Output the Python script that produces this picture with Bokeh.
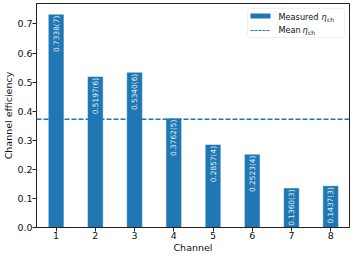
import math
from bokeh.plotting import figure
from bokeh.models import (ColumnDataSource, Span, Label, BoxAnnotation, FixedTicker,
                          Range1d, PrintfTickFormatter, Arrow)
from bokeh.core.properties import value
from bokeh.embed import file_html
from bokeh.resources import INLINE

# ---- data ----
channels = [1, 2, 3, 4, 5, 6, 7, 8]
efficiency = [0.7338, 0.5197, 0.5340, 0.3762, 0.2857, 0.2523, 0.1360, 0.1437]
eff_labels = ["0.7338(7)", "0.5197(6)", "0.5340(6)", "0.3762(5)",
              "0.2857(4)", "0.2523(4)", "0.1360(3)", "0.1437(3)"]
y_ticks = [0.0, 0.1, 0.2, 0.3, 0.4, 0.5, 0.6, 0.7]
mean_eff = sum(efficiency) / len(efficiency)

FONT = "DejaVu Sans"
BLUE = "#1f77b4"
W, H = 350, 255

src = ColumnDataSource(dict(x=channels, top=efficiency, lab=eff_labels))

p = figure(width=W, height=H, output_backend="svg", toolbar_location=None,
           x_range=Range1d(0.5, 8.48), y_range=Range1d(0, max(efficiency) * 1.05),
           min_border_left=0, min_border_right=1, min_border_top=3,
           min_border_bottom=0)
p.grid.visible = False
p.outline_line_color = "#222222"
p.outline_line_width = 1
p.outline_line_alpha = 1
p.background_fill_color = "white"
p.border_fill_color = "white"

p.vbar(x="x", top="top", width=0.4, source=src, fill_color=BLUE,
       line_color="white", line_alpha=0.5, line_width=1)

p.text(x="x", y="top", text="lab", source=src, angle=math.pi / 2,
       text_align="right", text_baseline="middle", y_offset=1.5,
       text_color="white", text_alpha=0.9, text_font_size="7.4px",
       text_font=value(FONT))

p.add_layout(Span(location=mean_eff, dimension="width", line_color=BLUE,
                  line_width=1.5, line_dash="5 2"))

for ax in (p.xaxis, p.yaxis):
    ax.major_tick_out = 4
    ax.major_tick_in = 0
    ax.minor_tick_out = 0
    ax.minor_tick_in = 0
    ax.axis_line_color = "#222222"
    ax.major_tick_line_color = "#222222"
    ax.major_label_text_font = FONT
    ax.major_label_text_font_size = "9.5px"
    ax.major_label_text_color = "#111111"
    ax.axis_label_text_font = FONT
    ax.axis_label_text_font_size = "9.5px"
    ax.axis_label_text_font_style = "normal"
    ax.axis_label_text_color = "#111111"
    ax.major_label_standoff = 0
    ax.axis_label_standoff = 0

p.xaxis.ticker = FixedTicker(ticks=channels)
p.yaxis.ticker = FixedTicker(ticks=y_ticks)
p.yaxis.formatter = PrintfTickFormatter(format="%.1f")
p.xaxis.axis_label = "Channel"
p.yaxis.axis_label = "Channel efficiency"

# ---- custom legend (canvas pixels) ----
p.add_layout(BoxAnnotation(left=247, right=344, top=8, bottom=37,
                           left_units="canvas", right_units="canvas",
                           top_units="canvas", bottom_units="canvas",
                           fill_color="white", fill_alpha=0.8,
                           line_color="#cccccc", line_width=1, border_radius=3))
p.add_layout(BoxAnnotation(left=250, right=270, top=13, bottom=18,
                           left_units="canvas", right_units="canvas",
                           top_units="canvas", bottom_units="canvas",
                           fill_color=BLUE, fill_alpha=1, line_color=None))
p.add_layout(Arrow(x_start=250, y_start=30, x_end=270, y_end=30, start=None, end=None,
                   start_units="canvas", end_units="canvas",
                   line_color=BLUE, line_width=1, line_dash="3 1"))

def lab(txt, x, y, size, style="normal"):
    p.add_layout(Label(x=x, y=y, x_units="canvas", y_units="canvas", text=txt,
                       text_font=FONT, text_font_size=size, text_font_style=style,
                       text_baseline="middle", text_align="left",
                       text_color="#111111"))

lab("Measured", 278, 16, "8.2px")
lab("η", 321, 16, "8.2px", "italic")
lab("ch", 326.5, 18.5, "6px")
lab("Mean", 278, 29, "8.2px")
lab("η", 302, 29, "8.2px", "italic")
lab("ch", 307.5, 31.5, "6px")

open("out.html", "w").write(file_html(p, INLINE))
